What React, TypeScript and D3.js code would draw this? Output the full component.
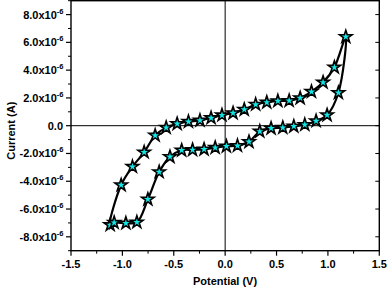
import React from "react";
import * as d3 from "d3";

const forwardV = [-1.119, -1.012, -0.902, -0.788, -0.681, -0.574, -0.467, -0.357, -0.245, -0.137, -0.031, 0.077, 0.186, 0.297, 0.405, 0.513, 0.623, 0.73, 0.84, 0.953, 1.063, 1.174];
const forwardI = [-7.14, -4.27, -2.95, -1.91, -0.7, -0.14, 0.14, 0.29, 0.38, 0.56, 0.76, 0.91, 1.16, 1.53, 1.68, 1.78, 1.8, 1.99, 2.45, 3.12, 4.2, 6.4];
const reverseV = [1.102, 0.992, 0.885, 0.775, 0.668, 0.561, 0.447, 0.337, 0.232, 0.12, 0.012, -0.097, -0.205, -0.317, -0.423, -0.537, -0.642, -0.752, -0.859, -0.966, -1.08];
const reverseI = [2.37, 0.77, 0.34, 0.07, -0.04, -0.14, -0.19, -0.41, -1.16, -1.44, -1.48, -1.58, -1.7, -1.74, -1.77, -2.24, -3.33, -5.3, -6.95, -7.02, -6.98];

const xTicks = [-1.5, -1.0, -0.5, 0.0, 0.5, 1.0, 1.5];
const yTicks = [-8, -6, -4, -2, 0, 2, 4, 6, 8];

const FONT = "'Liberation Sans', Arial, sans-serif";

export default function App() {
  const W = 388, H = 290;
  const left = 71, right = 379.3, top = 0.7, bottom = 250.7;
  const x = d3.scaleLinear().domain([-1.5, 1.5]).range([left, right]);
  const y = d3.scaleLinear().domain([-9, 9]).range([bottom, top]);

  const pts: [number, number][] = [
    ...forwardV.map((v, i) => [v, forwardI[i]] as [number, number]),
    ...reverseV.map((v, i) => [v, reverseI[i]] as [number, number]),
  ];
  const line = d3
    .line<[number, number]>()
    .x((d) => x(d[0]))
    .y((d) => y(d[1]))
    .curve(d3.curveCatmullRomClosed.alpha(0.5));
  const star = d3.symbol().type(d3.symbolStar).size(48)() as string;

  const xMinor = d3.range(-1.25, 1.5, 0.5);
  const yMinor = d3.range(-9, 9.01, 1).filter((v) => Math.round(v) % 2 !== 0);

  return (
    <svg width={W} height={H} style={{ position: "absolute", left: 0, top: 0 }} fontFamily={FONT}>
      <rect x={0} y={0} width={W} height={H} fill="#fff" />
      {/* zero lines */}
      <line x1={left} x2={right} y1={y(0)} y2={y(0)} stroke="#000" strokeWidth={1} />
      <line x1={x(0)} x2={x(0)} y1={top} y2={bottom} stroke="#000" strokeWidth={1} />
      {/* frame */}
      <rect x={left} y={top} width={right - left} height={bottom - top} fill="none" stroke="#000" strokeWidth={1.4} />
      {/* x ticks */}
      {xTicks.map((t) => (
        <g key={"xt" + t}>
          <line x1={x(t)} x2={x(t)} y1={bottom} y2={bottom + 5} stroke="#000" strokeWidth={1.2} />
          <text x={x(t)} y={268} textAnchor="middle" fontSize={11} fontWeight="bold">
            {t.toFixed(1)}
          </text>
        </g>
      ))}
      {xMinor.map((t) => (
        <line key={"xm" + t} x1={x(t)} x2={x(t)} y1={bottom} y2={bottom + 3} stroke="#000" strokeWidth={1} />
      ))}
      {/* y ticks */}
      {yTicks.map((t) => (
        <g key={"yt" + t}>
          <line x1={left - 5} x2={left} y1={y(t)} y2={y(t)} stroke="#000" strokeWidth={1.2} />
          <line x1={right - 4} x2={right} y1={y(t)} y2={y(t)} stroke="#000" strokeWidth={1} />
          {t === 0 ? (
            <text x={63} y={y(t) + 4} textAnchor="end" fontSize={11} fontWeight="bold">
              0.0
            </text>
          ) : (
            <text x={63.5} y={y(t) + 4} textAnchor="end" fontSize={11} fontWeight="bold">
              {t.toFixed(1) + "x10"}
              <tspan fontSize={7.5} dy={-5}>-6</tspan>
            </text>
          )}
        </g>
      ))}
      {yMinor.map((t) => (
        <line key={"ym" + t} x1={left - 3} x2={left} y1={y(t)} y2={y(t)} stroke="#000" strokeWidth={1} />
      ))}
      {/* axis labels */}
      <text x={225} y={285} textAnchor="middle" fontSize={11} fontWeight="bold">
        Potential (V)
      </text>
      <text transform={`translate(15,${y(0) + 5}) rotate(-90)`} textAnchor="middle" fontSize={11} fontWeight="bold">
        Current (A)
      </text>
      {/* curve */}
      <path d={line(pts) || ""} fill="none" stroke="#000" strokeWidth={2.2} />
      {pts.map((p, i) => (
        <path
          key={"s" + i}
          d={star}
          transform={`translate(${x(p[0])},${y(p[1])}) rotate(0)`}
          fill="#14e6e6"
          stroke="#000"
          strokeWidth={1.6}
        />
      ))}
    </svg>
  );
}
